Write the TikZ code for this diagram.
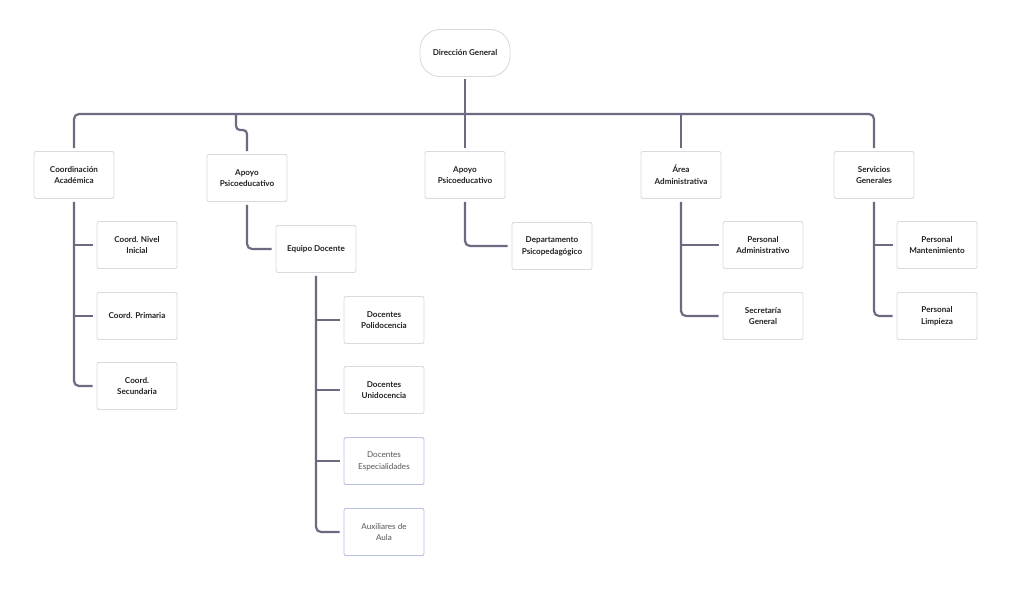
\documentclass[tikz,border=0pt]{standalone}
\usepackage{fontspec}
\setmainfont{Lato}
\definecolor{linec}{HTML}{6B6A80}
\definecolor{boxb}{HTML}{DADADA}
\definecolor{blueb}{HTML}{B9C0E0}
\definecolor{txt}{HTML}{222222}
\definecolor{txtl}{HTML}{555555}
\tikzset{
  box/.style={draw=boxb, line width=0.9pt, rounded corners=2pt, fill=white, minimum width=80pt, minimum height=47pt, align=center, font=\fontsize{8.1}{11.8}\selectfont\bfseries, text=txt, inner sep=1pt},
  bluebox/.style={box, draw=blueb, text=txtl, font=\fontsize{8.1}{11.8}\selectfont},
  rootbox/.style={box, rounded corners=20pt, minimum width=90pt},
  conn/.style={draw=linec, line width=2.2pt, rounded corners=5pt},
}
\begin{document}
\begin{tikzpicture}[x=1pt,y=-1pt]
\useasboundingbox (0,0) rectangle (1024,600);
\node[rootbox] (root) at (465,53) {Dirección General};
% level 1
\node[box] (ca) at (74,175) {Coordinación\\Académica};
\node[box] (ap1) at (247,178) {Apoyo\\Psicoeducativo};
\node[box] (ap2) at (465,175) {Apoyo\\Psicoeducativo};
\node[box] (aa) at (681,175) {Área\\Administrativa};
\node[box] (sg) at (874,175) {Servicios\\Generales};
% level 2
\node[box] (cni) at (137,245) {Coord. Nivel\\Inicial};
\node[box] (cp) at (137,316) {Coord. Primaria};
\node[box] (cs) at (137,386) {Coord.\\Secundaria};
\node[box] (ed) at (316,249) {Equipo Docente};
\node[box] (dp) at (384,320) {Docentes\\Polidocencia};
\node[box] (du) at (384,390) {Docentes\\Unidocencia};
\node[bluebox] (de) at (384,461) {Docentes\\Especialidades};
\node[bluebox] (au) at (384,532) {Auxiliares de\\Aula};
\node[box] (dpp) at (552,246) {Departamento\\Psicopedagógico};
\node[box] (pa) at (763,245) {Personal\\Administrativo};
\node[box] (sgen) at (763,316) {Secretaría\\General};
\node[box] (pm) at (937,245) {Personal\\Mantenimiento};
\node[box] (pl) at (937,316) {Personal\\Limpieza};
\coordinate (bar) at (465,114);
\coordinate (jog) at (236,114);
\coordinate (jogb) at (236,130);
% top connectors
\draw[conn] ([yshift=-2pt]root.south) -- ([yshift=3pt]ap2.north);
\draw[conn] ([yshift=3pt]ca.north) -- (ca.north |- bar) -- (sg.north |- bar) -- ([yshift=3pt]sg.north);
\draw[conn] (aa.north |- bar) -- ([yshift=3pt]aa.north);
\draw[conn, rounded corners=4pt] (jog) -- (jogb) -- (jogb -| ap1.north) -- ([yshift=3pt]ap1.north);
% Coordinación
\draw[conn] ([yshift=-3pt]ca.south) |- ([xshift=-4pt]cs.west);
\draw[conn, rounded corners=0pt] (ca.south |- cni.west) -- ([xshift=-4pt]cni.west);
\draw[conn, rounded corners=0pt] (ca.south |- cp.west) -- ([xshift=-4pt]cp.west);
% Apoyo left
\draw[conn] ([yshift=-3pt]ap1.south) |- ([xshift=-4pt]ed.west);
\draw[conn] ([yshift=-3pt]ed.south) |- ([xshift=-4pt]au.west);
\draw[conn, rounded corners=0pt] (ed.south |- dp.west) -- ([xshift=-4pt]dp.west);
\draw[conn, rounded corners=0pt] (ed.south |- du.west) -- ([xshift=-4pt]du.west);
\draw[conn, rounded corners=0pt] (ed.south |- de.west) -- ([xshift=-4pt]de.west);
% Apoyo middle
\draw[conn] ([yshift=-3pt]ap2.south) |- ([xshift=-4pt]dpp.west);
% Área
\draw[conn] ([yshift=-3pt]aa.south) |- ([xshift=-4pt]sgen.west);
\draw[conn, rounded corners=0pt] (aa.south |- pa.west) -- ([xshift=-4pt]pa.west);
% Servicios
\draw[conn] ([yshift=-3pt]sg.south) |- ([xshift=-4pt]pl.west);
\draw[conn, rounded corners=0pt] (sg.south |- pm.west) -- ([xshift=-4pt]pm.west);
\end{tikzpicture}
\end{document}
